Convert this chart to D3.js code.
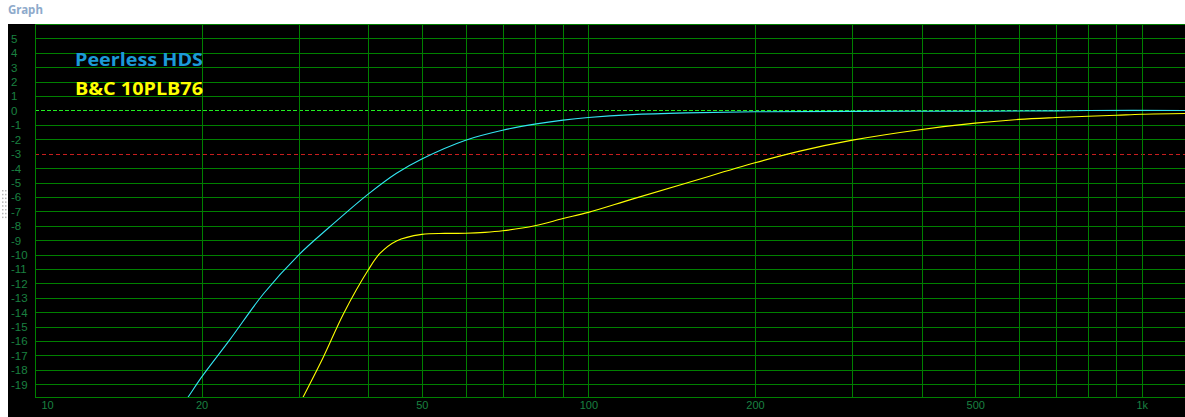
<!DOCTYPE html>
<html>
<head>
<meta charset="utf-8">
<script src="https://cdn.jsdelivr.net/npm/d3@7"></script>
<style>
  html, body { margin: 0; padding: 0; background: #ffffff; }
  svg { display: block; }
</style>
</head>
<body>
<svg id="chart" width="1185" height="417"></svg>
<script>
// ---- data ----
const seriesNames = ["Peerless HDS", "B&C 10PLB76"];
const peerlessFreq = [18, 18.9, 20, 22.5, 25.9, 30, 34.1, 40, 45, 50, 60, 70, 80, 90, 100, 120, 150, 200, 300, 500, 700, 800, 1200];
const peerlessDb   = [-21.1, -19.9, -18.5, -15.9, -12.7, -10.0, -8.07, -5.8, -4.35, -3.36, -2.06, -1.37, -0.95, -0.67, -0.49, -0.29, -0.17, -0.09, -0.06, -0.05, -0.03, 0, 0];
const bcFreq = [30, 30.5, 33.2, 36.1, 40, 42, 45, 50, 55, 60, 65, 70, 80, 90, 100, 120, 150, 200, 241, 300, 400, 500, 600, 700, 800, 900, 1000, 1200];
const bcDb   = [-20.45, -19.9, -17.1, -14.1, -11.07, -9.92, -9.05, -8.6, -8.53, -8.52, -8.46, -8.35, -8.0, -7.5, -7.07, -6.15, -5.05, -3.63, -2.82, -2.06, -1.32, -0.88, -0.62, -0.49, -0.40, -0.33, -0.26, -0.21];
const yTicks = [5, 4, 3, 2, 1, 0, -1, -2, -3, -4, -5, -6, -7, -8, -9, -10, -11, -12, -13, -14, -15, -16, -17, -18, -19];
const xGrid = [20, 30, 40, 50, 60, 70, 80, 90, 100, 200, 300, 400, 500, 600, 700, 800, 900, 1000];
const xLabelValues = [10, 20, 50, 100, 200, 500, 1000];
const xLabelTexts  = ["10", "20", "50", "100", "200", "500", "1k"];

// ---- layout ----
const svg = d3.select("#chart");
const plotL = 35, plotT = 24, plotR = 1185, plotB = 397;
const x = d3.scaleLog().domain([10, 1200]).range([plotL, plotL + Math.log10(120) * 553.4]);
const y = d3.scaleLinear().domain([6, -19]).range([plotT, 384.3]);
const gridColor = "#008000";
const labelColor = "#1a8040";

// title
svg.append("text").attr("x", 8).attr("y", 14)
  .attr("font-family", "'Noto Sans', 'Open Sans', sans-serif")
  .attr("font-weight", 700).attr("font-size", 11.5)
  .attr("fill", "#8eaacb").text("Graph");

// splitter grip
const grip = svg.append("g").attr("fill", "#b8b8b8");
d3.range(0, 8).forEach(i => {
  grip.append("rect").attr("x", 2).attr("y", 190 + i * 3.8).attr("width", 1.5).attr("height", 1.5);
  grip.append("rect").attr("x", 5).attr("y", 190 + i * 3.8).attr("width", 1.5).attr("height", 1.5);
});

// black panel
svg.append("rect").attr("x", 8).attr("y", plotT).attr("width", 1185 - 8).attr("height", 417 - plotT).attr("fill", "#000000");

// horizontal grid via axis
const yAxisG = svg.append("g").attr("transform", `translate(${plotL},0)`)
  .call(d3.axisLeft(y).tickValues(yTicks).tickSize(-(plotR - plotL)).tickFormat(d => d));
yAxisG.select(".domain").remove();
yAxisG.selectAll(".tick line")
  .attr("shape-rendering", "crispEdges")
  .attr("stroke", d => d === 0 ? "#22ee22" : d === -3 ? "#c81e1e" : gridColor)
  .attr("stroke-dasharray", d => d === 0 ? "4,2" : d === -3 ? "4,3" : null)
  .attr("stroke-width", 1);
yAxisG.selectAll(".tick text")
  .attr("x", 11 - plotL).attr("dy", "0.34em").attr("text-anchor", "start")
  .attr("fill", labelColor)
  .attr("font-family", "'Liberation Sans', Arial, sans-serif").attr("font-size", 11.5);

// vertical grid via axis
const xGridG = svg.append("g").attr("transform", `translate(0,${plotB})`)
  .call(d3.axisBottom(x).tickValues(xGrid).tickSize(-(plotB - plotT)).tickFormat(""));
xGridG.select(".domain").remove();
xGridG.selectAll(".tick line").attr("stroke", gridColor).attr("shape-rendering", "crispEdges");

// x labels via axis
const xLabG = svg.append("g").attr("transform", `translate(0,${plotB})`)
  .call(d3.axisBottom(x).tickValues(xLabelValues).tickSize(0).tickFormat((d, i) => xLabelTexts[i]));
xLabG.select(".domain").remove();
xLabG.selectAll(".tick text")
  .attr("y", 12).attr("dy", 0)
  .attr("fill", labelColor)
  .attr("font-family", "'Liberation Sans', Arial, sans-serif").attr("font-size", 11)
  .attr("text-anchor", d => d === 10 ? "start" : "middle")
  .attr("x", d => d === 10 ? 6 : 0);

// plot frame lines (top, left, bottom)
const frame = svg.append("g").attr("stroke", gridColor).attr("shape-rendering", "crispEdges");
frame.append("line").attr("x1", plotL).attr("x2", plotR).attr("y1", plotT + 0.5).attr("y2", plotT + 0.5);
frame.append("line").attr("x1", plotL + 0.5).attr("x2", plotL + 0.5).attr("y1", plotT).attr("y2", plotB);
frame.append("line").attr("x1", plotL).attr("x2", plotR).attr("y1", plotB + 0.5).attr("y2", plotB + 0.5);

// clip
svg.append("clipPath").attr("id", "clip").append("rect")
  .attr("x", plotL).attr("y", plotT).attr("width", plotR - plotL).attr("height", plotB - plotT);

const line = d3.line().x(d => x(d[0])).y(d => y(d[1])).curve(d3.curveCatmullRom.alpha(0.5));
const curves = svg.append("g").attr("clip-path", "url(#clip)");
curves.append("path").datum(peerlessFreq.map((f, i) => [f, peerlessDb[i]]))
  .attr("d", line).attr("fill", "none").attr("stroke", "#33e6f2").attr("stroke-width", 1.1);
curves.append("path").datum(bcFreq.map((f, i) => [f, bcDb[i]]))
  .attr("d", line).attr("fill", "none").attr("stroke", "#ffff00").attr("stroke-width", 1.1);

// legend
const legColors = ["#1c9ad8", "#ffff00"];
seriesNames.forEach((name, i) => {
  svg.append("text").attr("x", 75).attr("y", 66 + i * 29)
    .attr("font-family", "'Open Sans', 'Noto Sans', sans-serif")
    .attr("font-weight", 700).attr("font-size", 18.5)
    .attr("textLength", 128).attr("lengthAdjust", "spacingAndGlyphs")
    .attr("fill", legColors[i]).text(name);
});
</script>
</body>
</html>
